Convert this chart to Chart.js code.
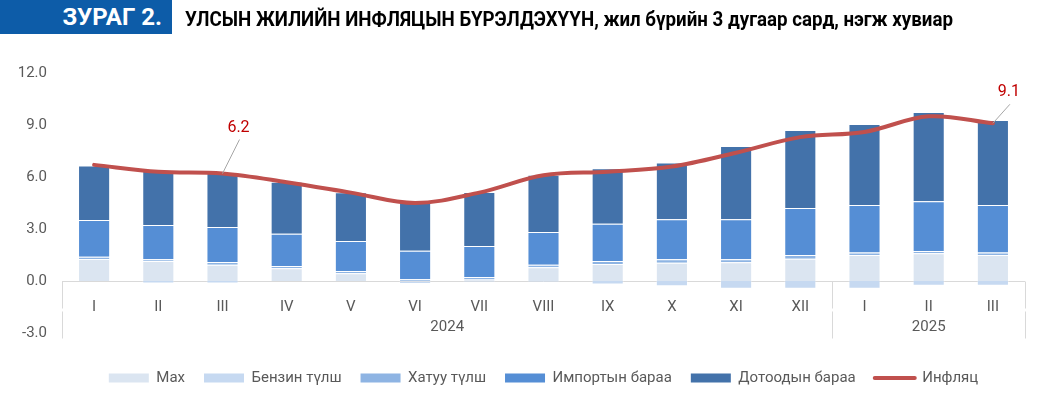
<!DOCTYPE html>
<html lang="mn">
<head>
<meta charset="utf-8">
<title>Зураг 2</title>
<script src="https://cdn.jsdelivr.net/npm/chart.js@4.4.1/dist/chart.umd.min.js"></script>
<style>
  html, body { margin: 0; padding: 0; background: #fff; }
  #wrap { position: relative; width: 1042px; height: 398px; overflow: hidden; }
  #tag  { position: absolute; left: 0; top: 0; width: 172px; height: 34px; box-sizing: border-box;
          padding-right: 10px; background: #0d5ca8; color: #fff; text-align: right;
          font: bold 24px Roboto, sans-serif; line-height: 34px; }
  #ttl  { position: absolute; left: 185px; top: 0; white-space: nowrap; color: #000;
          font: bold 21px Roboto, sans-serif; line-height: 38px; transform-origin: 0 50%; }
  canvas { position: absolute; left: 0; top: 0; }
</style>
</head>
<body>
<div id="wrap">
  <canvas id="chart" width="1042" height="398"></canvas>
  <div id="tag">ЗУРАГ 2.</div>
  <div id="ttl">УЛСЫН ЖИЛИЙН ИНФЛЯЦЫН БҮРЭЛДЭХҮҮН, жил бүрийн 3 дугаар сард, нэгж хувиар</div>
</div>
<script>
// ── data ─────────────────────────────────────────────────────────────────
const months    = ['I', 'II', 'III', 'IV', 'V', 'VI', 'VII', 'VIII', 'IX', 'X', 'XI', 'XII', 'I', 'II', 'III'];
const yearNames = ['2024', '2025'];
const yearSpans = [[0, 11], [12, 14]];
const yTicks    = [-3, 0, 3, 6, 9, 12];

const meat      = [1.27, 1.15, 0.94, 0.73, 0.45, -0.05, 0.08, 0.79, 0.98, 1.06, 1.08, 1.29, 1.50, 1.60, 1.50];
const petrol    = [0.00, -0.15, -0.15, 0.00, 0.00, -0.12, -0.05, -0.05, -0.20, -0.30, -0.45, -0.45, -0.45, -0.27, -0.27];
const fuel      = [0.13, 0.10, 0.15, 0.13, 0.13, 0.10, 0.15, 0.15, 0.17, 0.20, 0.17, 0.21, 0.15, 0.13, 0.15];
const imported  = [2.12, 1.98, 2.03, 1.87, 1.73, 1.64, 1.79, 1.89, 2.16, 2.30, 2.31, 2.71, 2.73, 2.87, 2.73];
const domestic  = [3.15, 3.12, 3.13, 3.00, 2.81, 2.92, 3.11, 3.30, 3.19, 3.27, 4.23, 4.50, 4.68, 5.15, 4.91];
const inflation = [6.7, 6.3, 6.2, 5.7, 5.1, 4.5, 5.1, 6.1, 6.3, 6.6, 7.4, 8.3, 8.6, 9.5, 9.1];
const labelled  = [2, 14];

const grey = '#595959';
Chart.defaults.font.family = 'Roboto';
Chart.defaults.color = grey;

// narrow the headline the way the condensed original font looks
const ttl = document.getElementById('ttl');
ttl.style.transform = `scaleX(${768 / ttl.getBoundingClientRect().width})`;

function barSet(label, data, color) {
    return {
        type: 'bar', label, data, stack: 'parts', order: 1,
        backgroundColor: color,
        borderColor: 'rgba(255,255,255,0.3)',
        borderWidth: 1,
        categoryPercentage: 1,
        barPercentage: 0.5
    };
}

// axis frame below the zero line + year row
const frame = {
    id: 'frame',
    beforeDatasetsDraw(chart) {
        const { ctx, chartArea: a, scales: { x, y } } = chart;
        const y0   = Math.round(y.getPixelForValue(0)) + 0.5;
        const half = x.width / months.length / 2;
        const cuts = [a.left, a.right];
        yearSpans.slice(1).forEach(s => cuts.push(x.getPixelForValue(s[0]) - half));

        ctx.save();
        ctx.strokeStyle = '#d9d9d9';
        ctx.lineWidth   = 1;
        ctx.beginPath();
        ctx.moveTo(a.left, y0);
        ctx.lineTo(a.right, y0);
        cuts.forEach(c => {
            const px = Math.round(c) + 0.5;
            ctx.moveTo(px, y0);      ctx.lineTo(px, y0 + 27);
            ctx.moveTo(px, y0 + 30); ctx.lineTo(px, y0 + 57);
        });
        ctx.stroke();

        ctx.fillStyle    = grey;
        ctx.font         = '15px Roboto';
        ctx.textAlign    = 'center';
        ctx.textBaseline = 'middle';
        yearSpans.forEach((s, i) => {
            const cx = (x.getPixelForValue(s[0]) + x.getPixelForValue(s[1])) / 2;
            ctx.fillText(yearNames[i], cx, y0 + 46);
        });
        ctx.restore();
    }
};

// red value callouts with leader lines
const callouts = {
    id: 'callouts',
    afterDatasetsDraw(chart) {
        const { ctx } = chart;
        const li   = chart.data.datasets.findIndex(d => d.type === 'line');
        const meta = chart.getDatasetMeta(li);
        const offs = { 2: [16, -46], 14: [16, -31] };
        ctx.save();
        labelled.forEach(i => {
            const p = meta.data[i];
            const [dx, dy] = offs[i] || [16, -36];
            const lx = p.x + dx, ly = p.y + dy;
            ctx.strokeStyle = '#a6a6a6';
            ctx.lineWidth   = 1;
            ctx.beginPath();
            ctx.moveTo(lx + 1, ly + 12);
            ctx.lineTo(p.x, p.y);
            ctx.stroke();
            ctx.fillStyle    = '#c00000';
            ctx.font         = '16px Roboto';
            ctx.textAlign    = 'center';
            ctx.textBaseline = 'middle';
            ctx.fillText(inflation[i].toFixed(1), lx, ly);
        });
        ctx.restore();
    }
};

new Chart(document.getElementById('chart'), {
    data: {
        labels: months,
        datasets: [
            barSet('Мах',            meat,     '#dbe5f1'),
            barSet('Бензин түлш',    petrol,   '#c6d9f1'),
            barSet('Хатуу түлш',     fuel,     '#8eb4e3'),
            barSet('Импортын бараа', imported, '#558ed5'),
            barSet('Дотоодын бараа', domestic, '#4372aa'),
            {
                type: 'line', label: 'Инфляц', data: inflation, stack: 'infl', order: 0,
                borderColor: '#c0504d', backgroundColor: '#c0504d',
                borderWidth: 4, borderCapStyle: 'round', borderJoinStyle: 'round',
                tension: 0.35, pointRadius: 0, fill: false
            }
        ]
    },
    options: {
        responsive: false,
        animation:  false,
        layout: { padding: { top: 73, right: 17, bottom: 2.5, left: 0 } },
        scales: {
            x: {
                position: { y: 0 },
                grid:   { display: false },
                border: { display: false },
                ticks:  { color: grey, font: { size: 15 }, padding: 9, maxRotation: 0, autoSkip: false }
            },
            y: {
                stacked: true,
                min: yTicks[0],
                max: yTicks[yTicks.length - 1],
                afterBuildTicks: s => { s.ticks = yTicks.map(v => ({ value: v })); },
                afterFit: s => { s.width = 62; },
                grid:   { display: false, drawTicks: false },
                border: { display: false },
                ticks:  { color: grey, font: { size: 15 }, padding: 15, callback: v => v.toFixed(1) }
            }
        },
        plugins: {
            tooltip: { enabled: false },
            legend: {
                position: 'bottom',
                fullSize: false,
                title: { display: true, text: '', font: { size: 1 }, padding: { top: 17.3, bottom: 0 } },
                labels: {
                    usePointStyle: true,
                    pointStyleWidth: 40,
                    boxHeight: 9,
                    padding: 19,
                    color: grey,
                    font: { size: 15 },
                    sort: (a, b) => a.datasetIndex - b.datasetIndex,
                    generateLabels(chart) {
                        const items = Chart.defaults.plugins.legend.labels.generateLabels(chart);
                        items.forEach(it => {
                            const ds = chart.data.datasets[it.datasetIndex];
                            if (ds.type === 'line') {
                                it.pointStyle  = 'line';
                                it.lineWidth   = 4;
                                it.strokeStyle = ds.borderColor;
                                it.lineCap     = 'round';
                            } else {
                                it.pointStyle = 'rect';
                                it.lineWidth  = 0;
                                it.fillStyle  = ds.backgroundColor;
                            }
                        });
                        return items;
                    }
                }
            }
        }
    },
    plugins: [frame, callouts]
});
</script>
</body>
</html>
